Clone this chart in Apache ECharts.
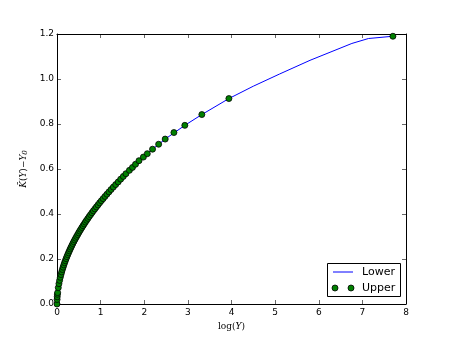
<!DOCTYPE html>
<html>
<head>
<meta charset="utf-8">
<script src="https://cdn.jsdelivr.net/npm/echarts@6/dist/echarts.min.js"></script>
<style>
  html, body { margin: 0; padding: 0; background: #fff; }
  #chart { width: 450px; height: 339px; }
</style>
</head>
<body>
<div id="chart"></div>
<script>
// "Upper" points (log(Y) vs K(Y)-Y0)
var upperX = [
  0.000, 0.002, 0.005, 0.009, 0.0146, 0.0294, 0.0445, 0.0597, 0.0752, 0.0910, 0.1070, 0.1233, 0.1399,
  0.1567, 0.1738, 0.1912, 0.2089, 0.2269, 0.2453, 0.2640, 0.2831, 0.3025, 0.3223,
  0.3425, 0.3631, 0.3842, 0.4057, 0.4277, 0.4502, 0.4732, 0.4968, 0.5209, 0.5456,
  0.5709, 0.5969, 0.6236, 0.6510, 0.6792, 0.7082, 0.7381, 0.7689, 0.8007, 0.8335,
  0.8675, 0.9026, 0.9390, 0.9768, 1.0161, 1.0570, 1.0996, 1.1441, 1.1907, 1.2396,
  1.2910, 1.3451, 1.4024, 1.46, 1.52, 1.58, 1.66, 1.73, 1.80, 1.88,
  1.98, 2.07, 2.19, 2.33, 2.48, 2.68, 2.93, 3.32, 3.94, 7.70
];
var upperY = [
  0.000, 0.020, 0.032, 0.043, 0.0505, 0.0727, 0.0902, 0.105, 0.1185, 0.1308, 0.1423, 0.1532, 0.1635,
  0.1736, 0.1832, 0.1925, 0.2016, 0.2104, 0.2191, 0.2276, 0.2361, 0.2443, 0.2525,
  0.2606, 0.2687, 0.2767, 0.2846, 0.2925, 0.3005, 0.3083, 0.3162, 0.3241, 0.3320,
  0.3399, 0.3479, 0.3559, 0.3640, 0.3721, 0.3803, 0.3885, 0.3969, 0.4054, 0.4139,
  0.4226, 0.4314, 0.4403, 0.4495, 0.4588, 0.4683, 0.4780, 0.4880, 0.4982, 0.5088,
  0.5196, 0.5308, 0.5425, 0.555, 0.567, 0.579, 0.594, 0.607, 0.621, 0.637,
  0.653, 0.668, 0.688, 0.710, 0.733, 0.762, 0.794, 0.842, 0.913, 1.190
];

// "Lower" line
var lowerX = [0, 0.1, 0.2, 0.3, 0.5, 0.75, 1.0, 1.25, 1.5, 1.88, 2.19, 2.48, 2.93, 3.32,
  3.94, 4.5, 5.1, 5.8, 6.76, 7.14, 7.70];
var lowerY = [0, 0.137, 0.197, 0.243, 0.317, 0.392, 0.455, 0.511, 0.563, 0.637, 0.688, 0.733,
  0.794, 0.842, 0.913, 0.968, 1.022, 1.083, 1.158, 1.180, 1.190];

var xTicks = [0, 1, 2, 3, 4, 5, 6, 7, 8];
var yTicks = ["0.0", "0.2", "0.4", "0.6", "0.8", "1.0", "1.2"];

var chart = echarts.init(document.getElementById("chart"));

function zip(xs, ys) {
  var out = [];
  for (var i = 0; i < xs.length; i++) out.push([xs[i], ys[i]]);
  return out;
}

var tickLabel = { fontFamily: "DejaVu Sans", fontSize: 9, color: "#000" };
var tick = { inside: true, length: 4, lineStyle: { color: "#000", width: 0.6 } };
var line = { show: true, onZero: false, lineStyle: { color: "#000", width: 1 } };
var legendFont = { fontFamily: "DejaVu Sans", fontSize: 11, fill: "#000" };

chart.setOption({
  animation: false,
  backgroundColor: "#fff",
  grid: { left: 57, right: 44, top: 34, bottom: 35 },
  // matplotlib-style legend box, lower right
  graphic: [
    {
      type: "group",
      left: 327,
      top: 263,
      children: [
        { type: "rect", shape: { x: 0.5, y: 0.5, width: 73, height: 33 },
          style: { fill: "#fff", stroke: "#000", lineWidth: 1 } },
        { type: "line", shape: { x1: 6, y1: 9, x2: 26, y2: 9 },
          style: { stroke: "#0000ff", lineWidth: 1 } },
        { type: "text", x: 35, y: 9,
          style: Object.assign({ text: "Lower", verticalAlign: "middle" }, legendFont) },
        { type: "circle", shape: { cx: 8, cy: 25, r: 3 },
          style: { fill: "#008000", stroke: "#000", lineWidth: 0.8 } },
        { type: "circle", shape: { cx: 24, cy: 25, r: 3 },
          style: { fill: "#008000", stroke: "#000", lineWidth: 0.8 } },
        { type: "text", x: 35, y: 25,
          style: Object.assign({ text: "Upper", verticalAlign: "middle" }, legendFont) }
      ]
    }
  ],
  xAxis: [
    {
      type: "value",
      min: xTicks[0],
      max: xTicks[xTicks.length - 1],
      interval: 1,
      axisLine: line,
      axisTick: tick,
      splitLine: { show: false },
      axisLabel: Object.assign({ margin: 4 }, tickLabel),
      name: "log({i|Y})",
      nameLocation: "middle",
      nameGap: 13,
      nameTextStyle: {
        fontFamily: "DejaVu Serif",
        fontSize: 9,
        color: "#000",
        rich: { i: { fontFamily: "DejaVu Serif", fontStyle: "italic", fontSize: 9 } }
      }
    },
    {
      type: "value",
      position: "top",
      min: 0,
      max: 8,
      interval: 1,
      axisLine: line,
      axisTick: tick,
      splitLine: { show: false },
      axisLabel: { show: false }
    }
  ],
  yAxis: [
    {
      type: "value",
      min: 0,
      max: 1.2,
      interval: 0.2,
      axisLine: line,
      axisTick: tick,
      splitLine: { show: false },
      axisLabel: Object.assign({
        margin: 3,
        formatter: function (v) { return yTicks[Math.round(v / 0.2)]; }
      }, tickLabel),
      name: "{i|K̄}({i|Y})−{i|Y}{s|0}",
      nameLocation: "middle",
      nameGap: 22,
      nameTextStyle: {
        fontFamily: "DejaVu Serif",
        fontSize: 9,
        color: "#000",
        rich: {
          i: { fontFamily: "DejaVu Serif", fontStyle: "italic", fontSize: 9 },
          s: { fontFamily: "DejaVu Serif", fontStyle: "italic", fontSize: 7, padding: [4, 0, 0, 0] }
        }
      }
    },
    {
      type: "value",
      position: "right",
      min: 0,
      max: 1.2,
      interval: 0.2,
      axisLine: line,
      axisTick: tick,
      splitLine: { show: false },
      axisLabel: { show: false }
    }
  ],
  series: [
    {
      name: "Lower",
      type: "line",
      data: zip(lowerX, lowerY),
      showSymbol: false,
      symbol: "none",
      lineStyle: { color: "#0000ff", width: 1 },
      z: 2
    },
    {
      name: "Upper",
      type: "scatter",
      data: zip(upperX, upperY),
      symbolSize: 6,
      itemStyle: { color: "#008000", borderColor: "#000", borderWidth: 0.8, opacity: 1 },
      z: 3
    }
  ]
});
</script>
</body>
</html>
